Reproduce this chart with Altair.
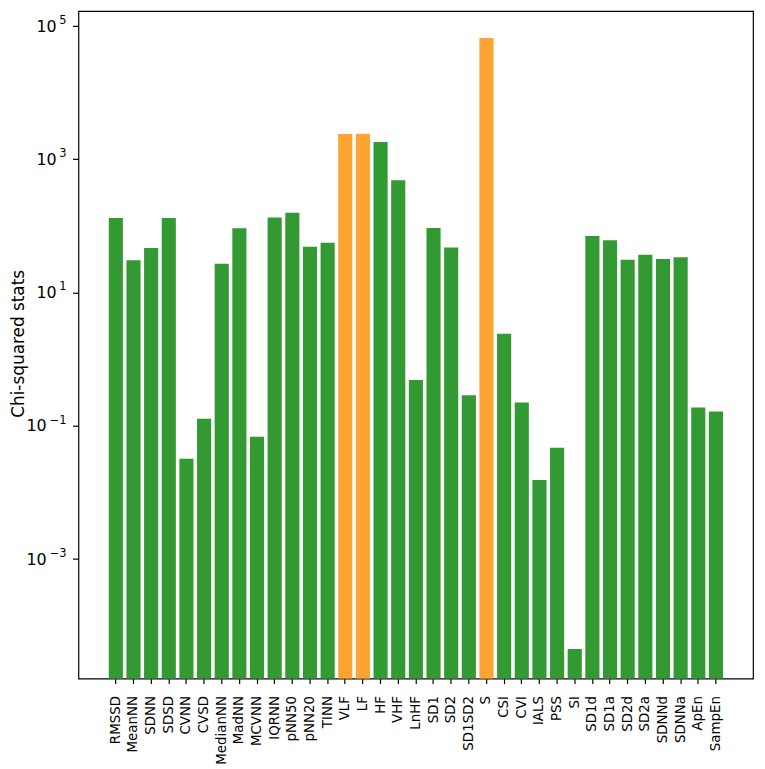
import altair as alt
import pandas as pd

features = ["RMSSD", "MeanNN", "SDNN", "SDSD", "CVNN", "CVSD", "MedianNN", "MadNN",
            "MCVNN", "IQRNN", "pNN50", "pNN20", "TINN", "VLF", "LF", "HF", "VHF",
            "LnHF", "SD1", "SD2", "SD1SD2", "S", "CSI", "CVI", "IALS", "PSS", "SI",
            "SD1d", "SD1a", "SD2d", "SD2a", "SDNNd", "SDNNa", "ApEn", "SampEn"]
chi2 = [131, 30.3, 46.3, 131, 0.0317, 0.126, 27, 92,
        0.068, 134, 158, 48.4, 55.6, 2400, 2420, 1820, 483,
        0.482, 93, 47.4, 0.285, 66200, 2.39, 0.221, 0.0152, 0.0463, 4.4e-5,
        70.6, 61, 31, 36.8, 31.8, 33.7, 0.186, 0.163]
highlighted = ["VLF", "LF", "S"]

tick_values = [1e-3, 1e-1, 1e1, 1e3, 1e5]
tick_base = ["10", "10", "10", "10", "10"]
tick_exps = ["\u22123", "\u22121", "1", "3", "5"]

y_min = 1.572e-5
y_max = 1.69e5

df = pd.DataFrame({
    "feature": features,
    "chi2": chi2,
    "group": ["high" if f in highlighted else "normal" for f in features],
})
ticks_df = pd.DataFrame({"v": tick_values, "base": tick_base, "exp": tick_exps})

font = "DejaVu Sans"
yscale = alt.Scale(type="log", domain=[y_min, y_max], nice=False)
TITLE = "Chi-squared stats"


def y_axis():
    return alt.Axis(title=TITLE, values=tick_values,
                    labels=False, tickSize=6, tickColor="black",
                    tickWidth=1.2, grid=False, domain=False,
                    titleFont=font, titleFontSize=17, titleFontWeight="normal",
                    titleColor="black", titleAngle=270, titleX=-55,
                    titleY=335, titleAlign="center",
                    titleBaseline="alphabetic")


bars = alt.Chart(df).mark_bar(clip=True).encode(
    x=alt.X("feature:N", sort=features,
            scale=alt.Scale(range=[28.8, 651.5], paddingInner=0.2, paddingOuter=0.1),
            axis=alt.Axis(title=None, labelAngle=270, labelFontSize=13.5,
                          labelFont=font, labelColor="black", tickSize=5,
                          tickColor="black", tickWidth=1.2, labelPadding=12,
                          domain=False)),
    y=alt.Y("chi2:Q", scale=yscale, title=TITLE, axis=y_axis()),
    y2=alt.datum(y_min),
    color=alt.Color("group:N",
                    scale=alt.Scale(domain=["normal", "high"],
                                    range=["#339933", "#ffa333"]),
                    legend=None),
)

tick_layer = alt.Chart(ticks_df)
base_neg = tick_layer.transform_filter("datum.v < 1").mark_text(
    align="right", baseline="middle", fontSize=16, font=font, color="black",
    dx=-20, dy=1,
).encode(y=alt.Y("v:Q", scale=yscale, title=TITLE, axis=y_axis()),
         x=alt.value(-12), text="base:N")
base_pos = tick_layer.transform_filter("datum.v >= 1").mark_text(
    align="right", baseline="middle", fontSize=16, font=font, color="black",
    dx=-10, dy=1,
).encode(y=alt.Y("v:Q", scale=yscale, title=TITLE, axis=y_axis()),
         x=alt.value(-12), text="base:N")
exps = tick_layer.mark_text(
    align="right", baseline="middle", fontSize=11.5, font=font, color="black",
    dy=-5,
).encode(y=alt.Y("v:Q", scale=yscale, title=TITLE, axis=y_axis()),
         x=alt.value(-12), text="exp:N")

chart = alt.layer(bars, base_neg, base_pos, exps).properties(
    width=680,
    height=673,
    autosize="none",
    padding={"left": 71, "top": 0, "right": 4, "bottom": 85},
).configure_view(
    stroke="black",
    strokeWidth=1.2,
)

chart.save("out.html", embed_options={"renderer": "svg", "actions": False})
